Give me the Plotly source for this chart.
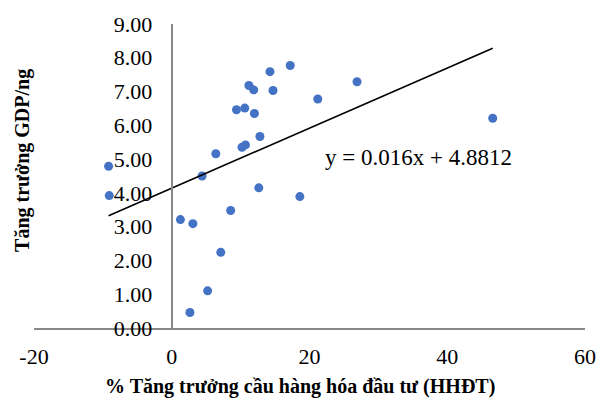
import numpy as np
import plotly.graph_objects as go

# Data
demand_growth = [-9.17, -9.07, 1.26, 3.07, 4.4, 6.4, 8.55, 7.12, 5.21, 2.64,
                 12.64, 18.6, 10.2, 10.7, 12.8, 9.4, 10.6, 12.0, 11.2, 11.9,
                 14.26, 17.2, 14.7, 21.2, 26.9, 46.6]
gdp_growth = [4.79, 3.92, 3.21, 3.09, 4.50, 5.16, 3.48, 2.24, 1.10, 0.46,
              4.15, 3.89, 5.35, 5.42, 5.67, 6.46, 6.51, 6.35, 7.18, 7.05,
              7.59, 7.77, 7.03, 6.78, 7.29, 6.21]
x_ticks = [-20, 0, 20, 40, 60]
y_ticks = [0, 1, 2, 3, 4, 5, 6, 7, 8, 9]
equation_label = "y = 0.016x + 4.8812"
x_title = "% Tăng trưởng cầu hàng hóa đầu tư (HHĐT)"
y_title = "Tăng trưởng GDP/ng"

FONT = "Liberation Serif"
AXIS_COLOR = "#898989"

slope, intercept = np.polyfit(demand_growth, gdp_growth, 1)
trend_x = [min(demand_growth), max(demand_growth)]
trend_y = [slope * v + intercept for v in trend_x]

fig = go.Figure()
fig.add_trace(go.Scatter(
    x=demand_growth, y=gdp_growth, mode="markers",
    marker=dict(color="#4472C4", size=9, line=dict(width=0)),
    showlegend=False, hoverinfo="x+y"))
fig.add_trace(go.Scatter(
    x=trend_x, y=trend_y, mode="lines",
    line=dict(color="black", width=1.6),
    showlegend=False, hoverinfo="skip"))

fig.update_layout(
    width=608, height=403,
    margin=dict(l=34, r=13, t=19, b=75),
    paper_bgcolor="white", plot_bgcolor="white",
    font=dict(family=FONT, color="black"),
    xaxis=dict(
        range=[-20, 60], tickvals=x_ticks, ticktext=[str(v) for v in x_ticks],
        showgrid=False, zeroline=False, showline=True, linecolor=AXIS_COLOR,
        linewidth=2, ticks="", tickfont=dict(family=FONT, size=22, color="black"),
        ticklabelstandoff=8, fixedrange=True),
    yaxis=dict(
        range=[0, 9], tickvals=y_ticks, ticktext=[f"{v:.2f}" for v in y_ticks],
        showgrid=False, zeroline=False, showline=True, linecolor=AXIS_COLOR,
        linewidth=2, ticks="", anchor="free", position=0.25,
        tickfont=dict(family=FONT, size=22, color="black"),
        ticklabelstandoff=14, fixedrange=True),
    annotations=[
        dict(text=equation_label, xref="paper", yref="paper",
             x=(425 - 34) / 561, y=(403 - 75 - 155) / 309,
             xanchor="center", yanchor="middle", showarrow=False,
             font=dict(family=FONT, size=23, color="black")),
        dict(text=f"<b>{x_title}</b>", xref="paper", yref="paper",
             x=(305 - 34) / 561, y=(403 - 75 - 387) / 309,
             xanchor="center", yanchor="middle", showarrow=False,
             font=dict(family=FONT, size=20, color="black")),
        dict(text=f"<b>{y_title}</b>", xref="paper", yref="paper",
             x=(23 - 34) / 561, y=(403 - 75 - 158) / 309,
             xanchor="center", yanchor="middle", showarrow=False, textangle=-90,
             font=dict(family=FONT, size=20, color="black")),
    ],
)

fig.write_html("out.html")
